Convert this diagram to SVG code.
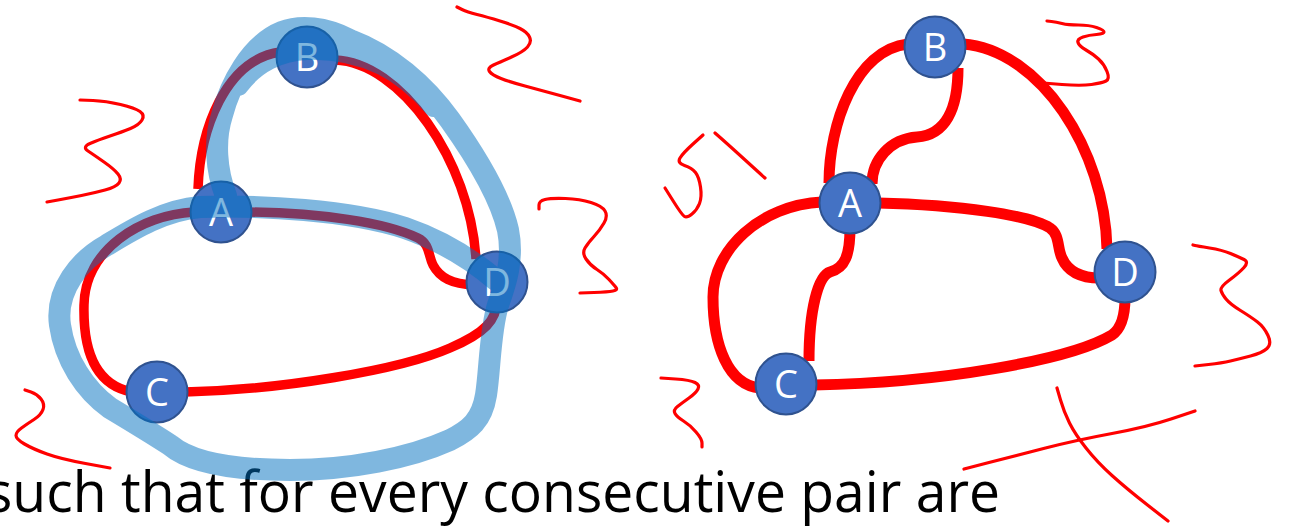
<svg xmlns="http://www.w3.org/2000/svg" width="1293" height="529" viewBox="0 0 1293 529">
<style>
.edge{fill:none;stroke:#FF0000;stroke-width:9.5;stroke-linecap:butt}
.edge2{fill:none;stroke:#FF0000;stroke-width:11;stroke-linecap:butt}
.node circle{fill:#4472C4;stroke:#2F528F;stroke-width:2}
.node text{fill:#FFFFFF;font-family:"Open Sans","Liberation Sans",sans-serif;font-size:38px;text-anchor:middle}
.ink{fill:none;stroke:#FF0000;stroke-width:3.2;stroke-linecap:round;stroke-linejoin:round}
.hl{fill:none;stroke:#0070C0;stroke-opacity:0.5;stroke-width:22;stroke-linecap:round;stroke-linejoin:round}
.caption{fill:#000000;font-family:"Open Sans","Liberation Sans",sans-serif;font-size:56px}
</style>
<rect width="1293" height="529" fill="#FFFFFF"/>
<text class="caption" x="-14" y="512" textLength="1014" lengthAdjust="spacingAndGlyphs">such that for every consecutive pair are</text>
<g id="connectors">
  <!-- left graph -->
  <path class="edge" d="M198,189 C200,130 225,60 280,52"/>
  <path class="edge" d="M335,60 C400,62 470,160 476,259"/>
  <path class="edge" d="M248,212 C320,213 385,222 418,238 C430,244 428,255 433,265 C440,278 452,284 474,285"/>
  <path class="edge" d="M194,212 C140,215 85,250 84,305 C83,350 95,385 132,392"/>
  <path class="edge" d="M185,392 C280,390 400,370 450,348 C485,333 497,320 497,300"/>
  <!-- right graph -->
  <path class="edge2" d="M829,183 C829,125 855,50 908,44"/>
  <path class="edge2" d="M963,44 C1040,50 1105,150 1107,249"/>
  <path class="edge2" d="M958,68 C958,110 945,135 917,137 C890,139 872,160 872,184"/>
  <path class="edge2" d="M878,203 C960,205 1030,215 1050,228 C1060,235 1057,248 1062,258 C1068,272 1082,278 1100,278"/>
  <path class="edge2" d="M822,202 C760,205 713,250 713,297 C713,345 728,385 760,388"/>
  <path class="edge2" d="M850,228 C850,255 845,268 830,272 C818,276 809,310 809,361"/>
  <path class="edge2" d="M814,385 C940,383 1070,360 1112,335 C1122,328 1125,315 1125,298"/>
</g>
<g id="scribbles">
  <path class="ink" d="M457,7 L462,9.5 Q467,12 477,14.5 Q487,17 500,21 Q513,25 520,28.5 Q527,32 529.5,37 Q532,42 527.5,47 Q523,52 511.5,57 Q500,62 493.5,65 Q487,68 489.5,71.5 Q492,75 501,78.5 Q510,82 525,86 Q540,90 560,95.5 L580,101"/>
  <path class="ink" d="M80,100 L93,100.5 Q106,101 120.5,104.5 Q135,108 140,111.5 Q145,115 142,120 Q139,125 130.5,128.5 Q122,132 110,136 Q98,140 90,143.5 Q82,147 88,151 Q94,155 104,162 Q114,169 118,174 Q122,179 119,183 Q116,187 105,190 Q94,193 81.5,195.5 Q69,198 58,200 L47,202"/>
  <path class="ink" d="M539,209 L539,205 Q539,201 545,199.5 Q551,198 565.5,198.5 Q580,199 591,202.5 Q602,206 605,211 Q608,216 604,223 Q600,230 594,236.5 Q588,243 585,248 Q582,253 586,259 Q590,265 597,269.5 Q604,274 609,279.5 Q614,285 616,287.5 Q618,290 613,291 Q608,292 594,292.5 L580,293"/>
  <path class="ink" d="M25,390 L31,392 Q37,394 41,399 Q45,404 43,409.5 Q41,415 34,419.5 Q27,424 21.5,428 Q16,432 16,435.5 Q16,439 24.5,444 Q33,449 47,454 Q61,459 85.5,463.5 L110,468"/>
  <path class="ink" d="M1047,21 L1051.5,21.5 Q1056,22 1062,23.5 Q1068,25 1078.5,25 Q1089,25 1096.5,27.5 Q1104,30 1104,32 Q1104,34 1096.5,34.5 Q1089,35 1083,37 Q1077,39 1078,42.5 Q1079,46 1086,50 Q1093,54 1098.5,59 Q1104,64 1107,71.5 Q1110,79 1106,81 Q1102,83 1091.5,84.5 Q1081,86 1062,84.5 L1043,83"/>
  <path class="ink" d="M703,135 L693,144 Q683,153 680,158 Q677,163 684.5,165.5 Q692,168 695.5,172.5 Q699,177 700.5,187 Q702,197 699.5,203.5 Q697,210 692,214 Q687,218 684.5,216.5 Q682,215 673.5,201.5 L665,188"/>
  <path class="ink" d="M715,133 C730,146 745,160 765,178"/>
  <path class="ink" d="M1193,245 L1195,245.5 Q1197,246 1209.5,248 Q1222,250 1230.5,253.5 Q1239,257 1244,259.5 Q1249,262 1244,267.5 Q1239,273 1229.5,280 Q1220,287 1221,290.5 Q1222,294 1226,299 Q1230,304 1240.5,310.5 Q1251,317 1257.5,322 Q1264,327 1268,335.5 Q1272,344 1267,348.5 Q1262,353 1250.5,356 Q1239,359 1230.5,361 Q1222,363 1208.5,364.5 L1195,366"/>
  <path class="ink" d="M661,378 L675.5,379 Q690,380 695,382.5 Q700,385 698,389 Q696,393 689,398 Q682,403 677.5,406.5 Q673,410 675,413.5 Q677,417 683.5,421 Q690,425 696,432 Q702,439 702,443 L702,447"/>
  <path class="ink" d="M964,469 L989,462.5 Q1014,456 1045.5,448 Q1077,440 1112,433.5 Q1147,427 1171,419 L1195,411"/>
  <path class="ink" d="M1057,388 L1060.5,400 Q1064,412 1069.5,423 Q1075,434 1086,448 Q1097,462 1112,475.5 Q1127,489 1147.5,505 L1168,521"/>
</g>
<g id="node-left-B" class="node"><circle cx="307" cy="57" r="30.5"/><text x="307" y="70.5">B</text></g>
<g id="node-left-A" class="node"><circle cx="221" cy="212" r="30.5"/><text x="221" y="225.5">A</text></g>
<g id="node-left-D" class="node"><circle cx="497" cy="282" r="30.5"/><text x="497" y="295.5">D</text></g>
<g id="node-left-C" class="node"><circle cx="157" cy="392" r="30.5"/><text x="157" y="405.5">C</text></g>
<g id="node-right-B" class="node"><circle cx="935" cy="47" r="30.5"/><text x="935" y="60.5">B</text></g>
<g id="node-right-A" class="node"><circle cx="850" cy="203" r="30.5"/><text x="850" y="216.5">A</text></g>
<g id="node-right-D" class="node"><circle cx="1125" cy="272" r="30.5"/><text x="1125" y="285.5">D</text></g>
<g id="node-right-C" class="node"><circle cx="786" cy="384" r="30.5"/><text x="786" y="397.5">C</text></g>
<g id="highlight">
  <path class="hl" d="M226,196 C216,170 214,140 222,115 C230,85 250,45 282,32 C300,25 325,27 350,40 C390,55 425,85 450,120 C475,155 500,195 508,230 C514,260 505,285 498,305 C490,330 490,370 486,395 C482,420 470,430 450,440 C410,458 350,470 290,470 C230,470 190,462 170,445 C150,432 130,420 110,408 C85,390 65,360 60,325 C55,290 80,260 107,245 C135,228 165,210 200,207 C260,205 350,210 405,228 C440,240 470,258 496,280 M238,85 C255,62 280,50 307,49 C332,48 358,53 382,64 C402,74 420,90 434,106"/>
</g>
</svg>
